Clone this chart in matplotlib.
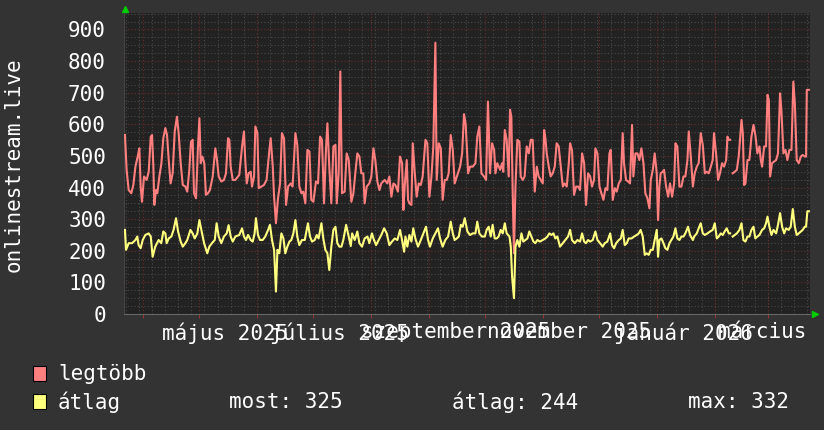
import pandas as pd
import matplotlib
matplotlib.use('Agg')
import matplotlib.pyplot as plt
from matplotlib.patches import Rectangle
from matplotlib.transforms import offset_copy, Bbox, TransformedBbox

# time axis: day offsets from the first sample
start = pd.Timestamp('2025-03-22')
span_days = 366.6

# legtöbb (max), NaN = missing data
max_days = [0.5, 1.4, 2.5, 3.9, 5.0, 6.1, 7.5, 8.2, 8.9, 9.6, 10.7, 12.1, 13.2, 14.3, 15.0, 15.7, 16.2, 17.1, 17.8, 18.9,
            20.0, 21.0, 22.1, 23.0, 23.9, 24.9, 26.0, 27.1, 28.3, 29.2, 30.3, 31.4, 32.8, 33.8, 34.9, 35.8, 36.7, 37.4,
            38.5, 39.5, 40.3, 41.0, 41.9, 42.9, 43.8, 44.9, 45.9, 47.4, 48.8, 49.7, 50.6, 52.0, 53.4, 54.5, 55.6, 56.3,
            57.0, 58.1, 59.5, 61.6, 62.4, 63.1, 64.1, 64.8, 65.6, 66.6, 67.7, 68.4, 69.5, 70.2, 71.3, 72.0, 73.4, 74.8,
            76.2, 77.7, 78.4, 79.5, 80.2, 81.2, 82.3, 83.4, 84.4, 85.5, 86.6, 87.7, 89.1, 90.1, 91.6, 92.6, 93.7, 94.8,
            95.8, 96.9, 98.0, 99.1, 100.1, 101.2, 102.6, 103.7, 104.8, 105.8, 106.9, 108.0, 108.7, 109.7, 110.8, 111.9,
            113.0, 113.7, 114.7, 115.6, 116.5, 117.9, 119.0, 120.1, 121.5, 122.6, 123.6, 124.7, 125.8, 126.8, 127.9,
            128.6, 129.7, 131.1, 132.2, 133.3, 134.3, 135.4, 136.5, 137.5, 139.3, 140.7, 141.8, 142.9, 144.0, 145.0,
            146.4, 147.5, 148.6, 149.3, 150.0, 151.1, 151.8, 152.5, 153.6, 154.3, 155.4, 156.4, 157.5, 158.6, 159.6,
            161.1, 162.1, 163.2, 164.3, 165.3, 166.4, 167.1, 168.2, 169.3, 170.3, 171.4, 172.5, 173.5, 174.6, 175.7,
            176.7, 178.2, 179.6, 180.7, 181.7, 182.6, 183.9, 184.9, 186.4, 187.8, 188.8, 189.9, 191.0, 192.4, 193.5,
            194.5, 195.6, 196.7, 197.8, 198.5, 199.5, 201.0, 202.0, 202.7, 203.5, 204.5, 205.6, 206.3, 207.0, 207.7,
            208.4, 209.2, 210.2, 211.3, 212.0, 213.1, 214.1, 215.2, 216.3, 217.4, 218.4, 219.5, 220.6, 221.6, 222.7,
            223.8, 224.5, 225.2, 225.9, 227.0, 228.0, 229.1, 230.2, 231.2, 232.3, 233.4, 234.5, 235.5, 236.6, 237.7,
            238.4, 239.4, 240.5, 241.6, 242.7, 243.7, 244.8, 245.9, 246.9, 248.0, 249.1, 250.1, 251.2, 251.9, 253.0,
            254.1, 255.1, 256.2, 257.3, 258.3, 259.4, 260.1, 261.2, 262.3, 263.3, 264.4, 265.5, 266.5, 267.2, 268.3,
            269.4, 270.4, 271.5, 272.2, 273.3, 274.4, 275.4, 276.5, 277.6, 278.6, 279.7, 280.8, 281.5, 282.6, 283.6,
            284.7, 285.4, 286.1, 286.8, 287.9, 288.6, 289.7, 290.8, 291.8, 292.9, 294.0, 294.7, 295.7, 296.8, 297.9,
            299.0, 300.0, 301.1, 301.8, 302.9, 304.0, 305.0, 306.1, 307.1, 308.2, 309.3, 310.4, 311.4, 312.5, 313.6,
            314.6, 315.3, 316.4, 317.5, 318.5, 319.6, 320.7, 321.8, 322.5, 323.2, 323.9, 324.6, 325.3, 326.4, 327.5,
            328.5, 330.0, 330.7, 331.4, 332.1, 333.2, 334.2, 335.3, 336.4, 337.4, 338.5, 339.6, 340.3, 341.0, 342.1,
            343.1, 343.9, 344.6, 345.3, 346.3, 347.4, 348.5, 349.5, 350.6, 351.3, 352.4, 353.5, 354.5, 355.6, 356.7,
            357.7, 358.5, 359.5, 360.6, 361.7, 362.7, 363.8, 364.5, 364.9, 366.0]
max_vals = [566, 456, 392, 382, 408, 466, 503, 524, 403, 355, 435, 424, 450, 561, 566, 466, 345, 392, 382, 435,
            477, 556, 588, 566, 487, 413, 445, 577, 624, 572, 477, 408, 403, 387, 456, 545, 551, 382,
            366, 524, 619, 477, 498, 477, 377, 382, 392, 435, 524, 487, 435, 419, 424, 445, 556, 551,
            466, 424, 424, 440, 487, 530, 577, 487, 413, 445, 450, 403, 435, 593, 572, 398, 403, 408,
            424, 519, 556, 466, 371, 287, 366, 413, 572, 556, 345, 403, 413, 403, 572, 535, 403, 382,
            387, 350, 519, 514, 361, 355, 419, 413, 561, 551, 350, 530, 603, 466, 350, 530,
            535, 350, 445, 767, 382, 387, 508, 487, 355, 382, 445, 508, 498, 445, 445,
            350, 403, 413, 435, 524, 487, 419, 392, 413, 424, 413, 435, 371, 413, 408,
            387, 498, 477, 329, 403, 487, 361, 350, 345, 540, 445, 371, 413, 408, 435,
            551, 540, 371, 435, 530, 858, 424, 540, 524, 361, 424, 424, 445, 566, 519,
            413, 440, 466, 508, 632, 600, 445, 466, 466, 477, 561, 593, 445, 435, 424,
            672, 445, 540, 519, 445, 477, 456, 477, 450, 582, 551, 435, 646, 624, 392,
            192, 403, 551, 545, 435, 424, 435, 530, 508, 551, 551, 387, 466, 435, 424,
            413, 582, 556, 508, 466, 435, 445, 466, 540, 530, 466, 403, 413, 403, 477,
            540, 519, 377, 403, 403, 392, 508, 477, 345, 445, 435, 403, 424, 524, 508,
            403, 382, 361, 398, 392, 508, 519, 361, 398, 387, 413, 424, 572, 477, 424,
            419, 413, 598, 435, 508, 508, 487, 524, 477, 382, 366, 334, 424, 456, 508,
            445, 297, 403, 445, 450, 456, 403, 371, 413, 371, 413, 540, 530, 403, 403,
            435, 435, 487, 577, 498, 403, 445, 466, 477, 572, 535, 445, 450, 445, 466,
            487, 572, 508, 424, 445, 477, 466, 487, 561, 551, 551, float('nan'), 445, 450, 456,
            498, 614, 572, 408, 413, 487, 487, 561, 598, 566, 508, 530, 487, 466, 530,
            530, 693, 677, 435, 477, 482, 487, 508, 698, 646, 508, 519, 487, 519, 519,
            735, 667, 487, 477, 498, 503, 498, 498, 709, 709]

# átlag (average)
avg_days = [0.5, 1.1, 2.5, 4.3, 6.1, 7.1, 7.8, 8.9, 10.0, 11.4, 13.2, 14.3, 15.3, 16.7, 18.5, 19.9, 21.0, 22.1, 22.8,
            23.9, 25.3, 26.5, 27.8, 28.9, 30.3, 31.4, 32.8, 33.8, 35.5, 36.7, 37.8, 39.2, 40.3, 41.7, 42.8, 44.5, 45.6,
            47.0, 48.5, 49.5, 50.6, 52.0, 53.4, 54.9, 55.9, 57.0, 58.1, 59.5, 61.6, 63.1, 64.1, 65.2, 66.3, 67.7, 68.8,
            69.8, 70.5, 71.6, 72.7, 74.1, 75.5, 77.0, 78.0, 79.1, 80.2, 81.2, 82.0, 83.0, 84.1, 85.2, 86.2, 87.3, 88.4,
            89.4, 90.5, 91.6, 92.6, 93.7, 95.1, 96.6, 97.6, 98.3, 99.4, 100.5, 101.9, 103.0, 104.0, 105.5, 106.5,
            107.6, 108.7, 109.7, 110.8, 111.9, 113.0, 114.0, 115.1, 116.2, 117.2, 118.7, 119.7, 121.2, 121.9, 123.3,
            124.7, 125.8, 127.2, 128.6, 130.1, 131.1, 132.5, 133.6, 134.7, 136.1, 137.5, 139.0, 140.4, 141.8, 143.2,
            144.7, 146.1, 147.5, 148.6, 149.7, 150.4, 151.4, 152.5, 153.6, 154.6, 155.7, 157.1, 158.6, 160.0, 161.4,
            162.5, 163.5, 165.0, 166.4, 167.8, 168.9, 170.3, 171.7, 173.2, 174.6, 175.7, 176.7, 177.8, 178.9, 180.0,
            181.0, 182.1, 183.5, 184.9, 186.4, 187.8, 188.8, 189.9, 191.3, 192.8, 193.8, 194.9, 196.0, 197.0, 198.1,
            199.2, 200.2, 201.3, 202.4, 203.5, 204.5, 206.0, 206.7, 207.4, 208.4, 209.2, 210.2, 211.3, 212.4, 213.4,
            214.5, 215.6, 216.6, 217.7, 218.8, 219.8, 220.9, 222.3, 223.8, 225.2, 226.3, 227.3, 228.4, 229.5, 230.5,
            231.6, 233.0, 234.5, 235.9, 237.3, 238.4, 239.4, 240.9, 242.3, 243.7, 244.8, 245.9, 246.9, 248.0, 249.1,
            250.5, 251.9, 253.0, 254.4, 255.8, 256.9, 258.3, 259.8, 260.8, 261.9, 263.0, 264.4, 265.5, 266.5, 267.6,
            268.7, 269.7, 271.2, 272.6, 274.0, 275.1, 276.1, 277.2, 278.3, 279.3, 280.4, 281.5, 282.6, 283.6, 284.7,
            285.4, 286.1, 287.2, 288.3, 289.3, 290.4, 291.5, 292.5, 293.6, 294.7, 295.7, 296.8, 297.9, 299.0, 300.0,
            301.4, 302.5, 304.0, 304.7, 306.1, 307.1, 308.2, 309.3, 310.4, 311.8, 313.2, 314.6, 315.7, 316.8, 317.8,
            318.9, 320.0, 321.0, 322.1, 323.2, 323.9, 324.6, 325.3, 326.4, 327.5, 328.9, 330.0, 331.0, 332.1, 333.2,
            334.2, 335.3, 336.4, 337.4, 338.5, 339.6, 341.0, 342.1, 343.1, 343.9, 344.9, 346.0, 347.1, 348.5, 349.5,
            350.6, 351.7, 352.8, 353.8, 355.2, 356.3, 357.4, 358.5, 359.5, 360.6, 361.7, 362.7, 363.8, 364.5, 365.2,
            366.0]
avg_vals = [266, 203, 224, 224, 234, 245, 218, 208, 234, 250, 255, 245, 181, 213, 234, 224, 261, 255, 224,
            239, 245, 266, 303, 261, 229, 213, 224, 234, 266, 255, 239, 255, 297, 255, 224, 192, 213,
            224, 234, 287, 245, 224, 245, 255, 281, 245, 229, 245, 250, 271, 245, 234, 250, 234, 229,
            255, 303, 250, 234, 234, 245, 266, 282, 234, 203, 71, 203, 192, 255, 239, 192, 213, 229,
            234, 255, 297, 245, 218, 234, 234, 266, 287, 245, 229, 234, 250, 239, 287, 239,
            203, 192, 139, 213, 266, 276, 224, 213, 213, 234, 282, 255, 215, 255, 234,
            261, 224, 213, 239, 245, 224, 255, 234, 218, 234, 250, 271, 255, 218, 229,
            239, 234, 266, 234, 197, 245, 213, 250, 229, 271, 239, 213, 234, 255, 276,
            234, 213, 239, 255, 271, 239, 213, 234, 245, 292, 255, 234, 239, 245, 282,
            276, 303, 261, 250, 255, 255, 292, 255, 245, 245, 266, 276, 245, 282, 239,
            239, 245, 266, 255, 287, 255, 245, 213, 118, 50, 213, 234, 213, 255, 229,
            234, 239, 261, 245, 229, 224, 234, 229, 234, 239, 245, 255, 250, 255, 239,
            245, 213, 224, 234, 245, 266, 234, 224, 234, 229, 255, 229, 224, 234, 229,
            234, 261, 234, 224, 213, 224, 229, 255, 218, 208, 224, 234, 239, 266, 218,
            224, 239, 239, 245, 250, 255, 266, 245, 187, 192, 187, 203, 203, 234, 266,
            181, 234, 239, 224, 208, 203, 224, 234, 245, 271, 239, 234, 245, 245, 255,
            276, 250, 234, 245, 255, 271, 287, 255, 250, 255, 261, 266, 287, 239, 245,
            255, 250, 261, 271, 255, 255, float('nan'), 245, 250, 255, 266, 287, 234, 229, 245,
            245, 266, 276, 239, 245, 250, 266, 271, 287, 308, 276, 250, 266, 255, 282,
            319, 276, 255, 271, 266, 276, 332, 276, 250, 255, 261, 266, 276, 276, 325,
            325]

month_labels = ['május 2025', 'július 2025', 'szeptember 2025', 'november 2025', 'január 2026', 'március 2026']
month_label_dates = ['2025-05-15', '2025-07-15', '2025-09-15', '2025-11-15', '2026-01-15', '2026-03-15']
y_ticks = list(range(0, 1000, 100))

series_names = ['legtöbb', 'átlag']
series_colors = ['#ff7f7f', '#ffff7f']
stats_labels = ['most: 325', 'átlag: 244', 'max: 332']

MONO = 'DejaVu Sans Mono'
BG = '#333333'
W, H = 824, 430

fig = plt.figure(figsize=(W / 100, H / 100), dpi=100, facecolor=BG)
ax = fig.add_axes([124 / W, 116 / H, 686 / W, 301 / H])
ax.set_facecolor('#222222')

end = start + pd.Timedelta(days=span_days)
max_dates = start + pd.to_timedelta(max_days, unit='D')
avg_dates = start + pd.to_timedelta(avg_days, unit='D')

# grid, rrdtool style
for v in range(25, 951, 25):
    c = '#6a2c2c' if v % 100 == 0 else '#4a4a4a'
    ax.axhline(v, color=c, lw=0.8, ls=(0, (1, 2)), zorder=1)
for d in pd.date_range(start, end, freq='W-SUN'):
    ax.axvline(d, color='#4a4a4a', lw=0.8, ls=(0, (1, 2)), zorder=1)
month_starts = pd.date_range('2025-04-01', end, freq='MS')
for d in month_starts:
    ax.axvline(d, color='#6a2c2c', lw=0.8, ls=(0, (1, 2)), zorder=1)

ax.plot(max_dates, max_vals, color=series_colors[0], lw=1.5, zorder=3)
ax.plot(avg_dates, avg_vals, color=series_colors[1], lw=1.5, zorder=3)

ax.set_xlim(start, end)
ax.set_ylim(0, 952)

ax.set_yticks(y_ticks)
ax.set_yticklabels([str(v) for v in y_ticks], family=MONO, fontsize=15, color='white')
ax.tick_params(axis='y', length=0, pad=13)

ax.set_xticks(pd.to_datetime(month_label_dates))
ax.set_xticklabels(month_labels, family=MONO, fontsize=15, color='white')
ax.set_xticks(month_starts, minor=True)
ax.tick_params(axis='x', which='major', length=0, pad=6)
ax.tick_params(axis='x', which='minor', length=3, color='#aa3333', direction='out')

# the last month label runs off the canvas; cut it where the plot ends
clip = TransformedBbox(Bbox([[0, 0], [810 / W, 1]]), fig.transFigure)
for lbl in ax.get_xticklabels():
    lbl.set_clip_box(clip)
    lbl.set_clip_on(True)

for side in ['top', 'right']:
    ax.spines[side].set_visible(False)
ax.spines['left'].set_color('#444444')
ax.spines['bottom'].set_color('#666666')

# little green arrows at the axis ends
up = offset_copy(ax.transAxes, fig=fig, x=1, y=4, units='dots')
ax.plot([0], [1], marker='^', ms=5, color='#00cc00', transform=up, clip_on=False)
right = offset_copy(ax.transAxes, fig=fig, x=5, y=0, units='dots')
ax.plot([1], [0], marker='>', ms=5, color='#00cc00', transform=right, clip_on=False)

fig.text(14 / W, 1 - 165 / H, 'onlinestream.live', rotation=90, ha='center', va='center',
         family=MONO, fontsize=15, color='white')

# legend
for i, (name, col) in enumerate(zip(series_names, series_colors)):
    yc = 374 + 28 * i
    fig.patches.append(Rectangle((33 / W, 1 - (yc + 7) / H), 13 / W, 15 / H, transform=fig.transFigure,
                                 facecolor=col, edgecolor='black', lw=0.8))
    fig.text(58 / W, 1 - yc / H, name, ha='left', va='center', family=MONO, fontsize=15, color='white')
for x, s in zip([229, 452, 688], stats_labels):
    fig.text(x / W, 1 - 402 / H, s, ha='left', va='center', family=MONO, fontsize=15, color='white')

fig.savefig('out.png', dpi=100, facecolor=BG)
